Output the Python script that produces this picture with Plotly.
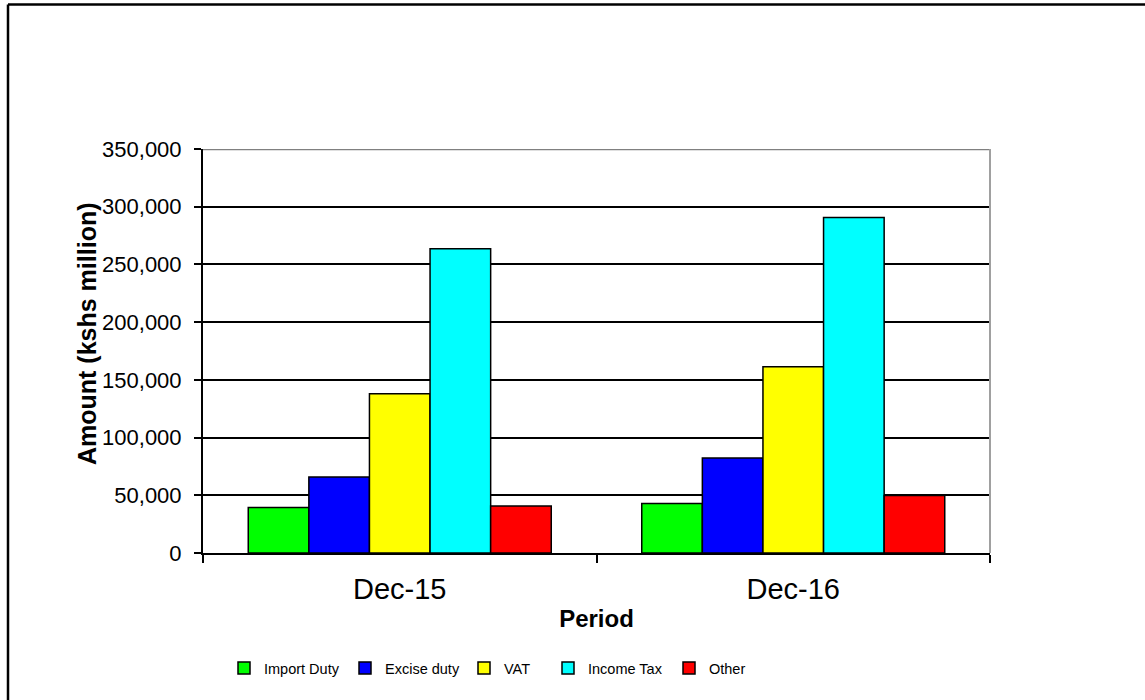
import plotly.graph_objects as go

# Tax revenue by type (kshs million)
periods = ["Dec-15", "Dec-16"]
series_names = ["Import Duty", "Excise duty", "VAT", "Income Tax", "Other"]
import_duty = [39400, 42900]
excise_duty = [65900, 82400]
vat = [138000, 161400]
income_tax = [263500, 290700]
other = [40800, 49800]
y_ticks = [0, 50000, 100000, 150000, 200000, 250000, 300000, 350000]
y_tick_text = ["0", "50,000", "100,000", "150,000", "200,000", "250,000", "300,000", "350,000"]

colors = ["#00FF00", "#0000FF", "#FFFF00", "#00FFFF", "#FF0000"]
values = [import_duty, excise_duty, vat, income_tax, other]

FONT = "Arial, Liberation Sans, sans-serif"
LEGEND_FONT = "Arial Narrow, Liberation Sans Narrow, Liberation Sans, sans-serif"

W, H = 1145, 700
L, R, T, B = 203, 155, 149, 147
PW, PH = W - L - R, H - T - B

# left edge (px) of each legend entry's label
legend_text_x = [262, 383, 502, 586, 707]
legend_keys = ["legend", "legend2", "legend3", "legend4", "legend5"]

fig = go.Figure()
for name, vals, col, key in zip(series_names, values, colors, legend_keys):
    fig.add_trace(go.Bar(
        x=periods, y=vals, name=name, legend=key,
        marker=dict(color=col, line=dict(color="black", width=1.5)),
    ))

legend_layout = {}
for key, tx in zip(legend_keys, legend_text_x):
    legend_layout[key] = dict(
        orientation="h", x=(tx - 38 - L) / PW, xanchor="left",
        y=(H - B - 668) / PH, yanchor="middle",
        font=dict(family=LEGEND_FONT, size=14.5, color="black"),
        bgcolor="rgba(0,0,0,0)", itemwidth=30, borderwidth=0,
    )

fig.update_layout(
    width=W, height=H,
    margin=dict(l=L, r=R, t=T, b=B),
    paper_bgcolor="white", plot_bgcolor="white",
    barmode="group", bargap=0.23, bargroupgap=0,
    font=dict(family=FONT, color="black"),
    showlegend=True,
    xaxis=dict(
        type="category", showline=True, linecolor="black", linewidth=2,
        ticks="outside", tickson="boundaries", ticklen=8, tickcolor="black", tickwidth=1.5,
        tickfont=dict(size=29, family=FONT), ticklabelstandoff=9,
        title=dict(text="<b>Period</b>", font=dict(size=24, family=FONT), standoff=6),
        showgrid=False,
    ),
    yaxis=dict(
        range=[0, 350000], tickvals=y_ticks, ticktext=y_tick_text,
        showline=True, linecolor="black", linewidth=2,
        ticks="outside", ticklen=7, tickcolor="black", tickwidth=1.5,
        tickfont=dict(size=22, family=FONT), ticklabelstandoff=8,
        showgrid=True, gridcolor="black", gridwidth=1.8,
        zeroline=False,
    ),
    **legend_layout,
)

# Y-axis title
fig.add_annotation(
    text="<b>Amount (kshs million)</b>", textangle=-90, showarrow=False,
    xref="paper", yref="paper", x=(87 - L) / PW, y=(H - B - 334) / PH,
    xanchor="center", yanchor="middle", font=dict(size=25, family=FONT, color="black"),
)

# Plot-area frame: grey top and right edges
fig.add_shape(type="line", xref="paper", yref="y", x0=0, x1=1, y0=350000, y1=350000,
              line=dict(color="#808080", width=2.5))
fig.add_shape(type="line", xref="paper", yref="paper", x0=1, x1=1, y0=0, y1=1,
              line=dict(color="#A0A0A0", width=2))

# Outer chart border (only top and left edges fall inside the page)
bx = (8 - L) / PW
by = (H - B - 4.5) / PH
fig.add_shape(type="line", xref="paper", yref="paper", x0=bx, x1=(W - L) / PW + 0.05, y0=by, y1=by,
              line=dict(color="black", width=2.5), layer="below")
fig.add_shape(type="line", xref="paper", yref="paper", x0=bx, x1=bx, y0=by, y1=-B / PH - 0.05,
              line=dict(color="black", width=2.5), layer="below")

fig.write_html("out.html")
